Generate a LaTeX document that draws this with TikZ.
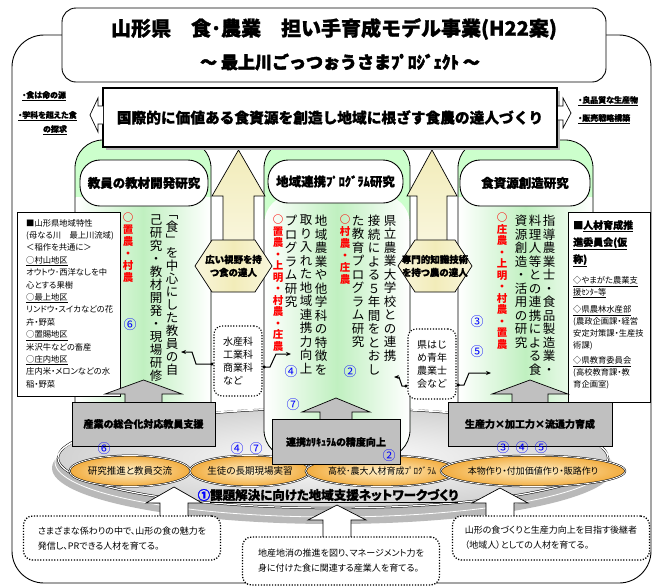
\documentclass[tikz,border=0pt]{standalone}
\usepackage{fontspec}
\newfontfamily\jp{Noto Sans CJK JP}
\newfontfamily\jpp{Noto Sans CJK JP}[RawFeature=+palt]
\newfontfamily\jpx{Noto Sans CJK JP}[BoldFeatures={FakeBold=1.2}]
\newfontfamily\jpxx{Noto Sans CJK JP}[BoldFeatures={FakeBold=2.6}]
\newfontfamily\jpxp{Noto Sans CJK JP}[RawFeature=+palt,BoldFeatures={FakeBold=1.2}]
\usetikzlibrary{shapes.geometric,arrows.meta}
\definecolor{archc}{RGB}{204,255,204}
\definecolor{colg}{RGB}{192,240,192}
\definecolor{creamc}{RGB}{242,236,185}
\definecolor{gboxc}{RGB}{192,192,192}
\definecolor{orngc}{RGB}{242,172,62}
\definecolor{lorngc}{RGB}{255,242,205}
\definecolor{bnumc}{RGB}{0,0,255}
\definecolor{rtxtc}{RGB}{255,0,0}
\makeatletter
\newcommand\vtxt[2]{\vbox{\baselineskip=#1\relax\lineskiplimit=-100pt\relax\lineskip=0pt\relax\@tfor\vt@c:=#2\do{\hbox to 1.15em{\hss\vt@c\hss}}}}
\makeatother
\begin{document}
\begin{tikzpicture}[x=1pt,y=-1pt,
  every node/.style={inner sep=0pt, font=\jp},
  vt/.style={anchor=north, font=\jp\fontsize{12.5}{13.5}\selectfont},
  vr/.style={anchor=north, text=rtxtc, font=\jp\bfseries\fontsize{10.5}{12}\selectfont},
  bn/.style={text=bnumc, font=\jp\fontsize{13}{13}\selectfont},
  hdr/.style={draw, line width=0.9pt, fill=white, rounded corners=20pt, font=\jpx\bfseries\fontsize{12.5}{14}\selectfont},
  gbx/.style={draw, line width=0.8pt, fill=gboxc, font=\jpxp\bfseries\fontsize{10}{12}\selectfont},
  pill/.style={ellipse, draw, double, double distance=0.8pt, line width=0.5pt, inner color=lorngc, outer color=orngc, font=\jpp\fontsize{9.5}{12}\selectfont},
  sbox/.style={draw, dash pattern=on 1.2pt off 1.6pt, line width=1.1pt, rounded corners=8pt, fill=white},
  bbox/.style={draw, dash pattern=on 1.2pt off 1.6pt, line width=1.3pt, rounded corners=9pt, fill=white},
  lab/.style={font=\jpxp\bfseries\fontsize{8}{9}\selectfont},
  hx/.style={align=center, font=\jpxp\bfseries\fontsize{9.5}{13}\selectfont},
  zz/.style={line width=1pt, {Stealth[length=5pt,width=4pt]}-{Circle[length=3pt]}},
  harrow/.style={draw, line width=0.7pt, fill=white},
  garrow/.style={draw, line width=0.7pt, fill=gboxc},
  carrow/.style={draw, line width=0.7pt, top color=creamc, bottom color=creamc!45!white},
  chex/.style={draw, line width=0.7pt, left color=creamc!50!white, right color=creamc!50!white, middle color=creamc}
]
\useasboundingbox (0,0) rectangle (663,587);
\fill[white] (0,0) rectangle (663,587);
% outer frame
\draw[line width=0.9pt, rounded corners=32pt] (12,35) rectangle (651,583);
% platform
\fill[gray!55] (333,468) ellipse [x radius=281pt, y radius=56pt];
\shade[inner color=white, outer color=gray!35] (333,458) ellipse [x radius=275pt, y radius=50pt];
\draw[double, double distance=1.2pt, line width=0.5pt] (333,458) ellipse [x radius=275pt, y radius=50pt];
\draw[white, line width=0.8pt] (333,462) ellipse [x radius=278pt, y radius=55pt];
% columns
\fill[archc, rounded corners=28pt] (75,140) rectangle (211,440);
\shade[left color=white, right color=white, middle color=colg] (75.4,197) rectangle (210.6,440);
\draw[line width=0.8pt, rounded corners=28pt] (75,140) rectangle (211,440);
\fill[archc, rounded corners=28pt] (264,140) rectangle (410,458);
\shade[left color=white, right color=white, middle color=colg, rounded corners=28pt] (264.4,195) -- (264.4,457.6) -- (409.6,457.6) -- (409.6,195) -- cycle;
\draw[line width=0.8pt, rounded corners=28pt] (264,140) rectangle (410,458);
\fill[archc, rounded corners=28pt] (458,140) rectangle (593,440);
\shade[left color=white, right color=white, middle color=colg] (458.4,197) rectangle (592.6,440);
\draw[line width=0.8pt, rounded corners=28pt] (458,140) rectangle (593,440);
% cream arrows
\path[carrow] (238.5,150) -- (265,196) -- (254,196) -- (254,250) -- (223,250) -- (223,196) -- (212,196) -- cycle;
\path[chex] (195,266) -- (212,240) -- (255,240) -- (272,266) -- (255,292) -- (212,292) -- cycle;
\node[hx] (hx1) at (233.5,266) {広い視野を持\\つ食の達人};
\path[carrow] (432,150) -- (457,196) -- (447,196) -- (447,250) -- (417,250) -- (417,196) -- (407,196) -- cycle;
\path[chex] (398,266) -- (415,240) -- (455,240) -- (472,266) -- (455,292) -- (415,292) -- cycle;
\node[hx] (hx2) at (435,266) {専門的知識技術\\を持つ農の達人};
% headers
\node[hdr, minimum width=128pt, minimum height=46pt] (h1) at (144,183) {教員の教材開発研究};
\node[hdr, minimum width=135pt, minimum height=43pt] (h2) at (335.5,181.5) {地域連携ﾌﾟﾛｸﾞﾗﾑ研究};
\node[hdr, minimum width=130pt, minimum height=46pt] (h3) at (525,183) {食資源創造研究};
% banner
\fill[gray!60] (106,91) rectangle (560,150);
\node[draw, line width=1.6pt, fill=white, minimum width=454pt, minimum height=59pt, font=\jpx\bfseries\fontsize{14.7}{16}\selectfont] (ban) at (330,117.5) {国際的に価値ある食資源を創造し地域に根ざす食農の達人づくり};
\path[harrow] (103,106) -- (98,106) -- (98,98) -- (90,115) -- (98,132) -- (98,124) -- (103,124);
\path[harrow] (558,106) -- (563,106) -- (563,98) -- (571,113) -- (563,128) -- (563,120) -- (558,120);
\node[lab, anchor=west] (la1) at (22,96) {\underline{・食は命の源}};
\node[lab, anchor=west] (la2) at (18,116) {\underline{・学科を超えた食}};
\node[lab] (la3) at (55,130) {\underline{の探求}};
\node[lab, anchor=west] (ra1) at (578,101) {\underline{・良品質な生産物}};
\node[lab, anchor=west] (ra2) at (578,119) {\underline{・販売戦略構築}};
% title
\node[draw, line width=0.9pt, fill=white, rounded corners=14pt, minimum width=544pt, minimum height=74pt] (tb) at (334,45) {};
\node[font=\jpx\bfseries\fontsize{20}{22}\selectfont] (t1) at (334,29) {山形県　食･農業　担い手育成モデル事業(H22案)};
\node[font=\jpxx\bfseries\fontsize{17}{19}\selectfont] (t2) at (340,62) {～ 最上川ごっつぉうさまﾌﾟﾛｼﾞｪｸﾄ ～};
% left column text
\node[vr] (r1) at (128,213) {\vtxt{12pt}{○置農・村農}};
\node[vt] (c1a) at (172,215) {\vtxt{13pt}{﹁食﹂を中心にした教員の自}};
\node[vt] (c1b) at (156,215) {\vtxt{13pt}{己研究・教材開発・現場研修}};
\node[bn] (n6a) at (130,325) {⑥};
% middle column text
\node[vr] (r2) at (345,215) {\vtxt{12pt}{○村農・庄農}};
\node[vr] (r3) at (278,215) {\vtxt{11.5pt}{○置農・上明・村農・庄農}};
\node[vt] (c2a) at (390,215) {\vtxt{13.5pt}{県立農業大学校との連携}};
\node[vt] (c2b) at (374,215) {\vtxt{13.5pt}{接続による５年間をとおし}};
\node[vt] (c2c) at (358,215) {\vtxt{13.5pt}{た教育プログラム研究}};
\node[vt] (c2d) at (321,215) {\vtxt{13.5pt}{地域農業や他学科の特徴を}};
\node[vt] (c2e) at (306,215) {\vtxt{13.5pt}{取り入れた地域連携力向上}};
\node[vt] (c2f) at (291,215) {\vtxt{13.5pt}{プログラム研究}};
\node[bn] (n4a) at (291,372) {④};
\node[bn] (n2a) at (350,372) {②};
\node[bn] (n7a) at (293,405) {⑦};
% right column text
\node[vr] (r4) at (502,213) {\vtxt{11.5pt}{○庄農・上明・村農・置農}};
\node[vt] (c3a) at (549,215) {\vtxt{13.5pt}{指導農業士・食品製造業・}};
\node[vt] (c3b) at (535,215) {\vtxt{13.5pt}{料理人等との連携による食}};
\node[vt] (c3c) at (521,215) {\vtxt{13.5pt}{資源創造・活用の研究}};
\node[bn] (n3a) at (477,322) {③};
\node[bn] (n5a) at (477,352) {⑤};
% left info box
\node[draw, line width=0.8pt, fill=white, minimum width=103pt, minimum height=184pt, anchor=north west] (ib1) at (17,212) {};
\node[anchor=north west, align=left, font=\jpp\fontsize{8.3}{12.4}\selectfont] (ib1t) at (26,219) {■山形県地域特性\\(母なる川　最上川流域)\\＜稲作を共通に＞\\\underline{○村山地区}\\オウトウ･西洋なしを中\\心とする果樹\\\underline{○最上地区}\\リンドウ・スイカなどの花\\卉・野菜\\\underline{○置賜地区}\\米沢牛などの畜産\\\underline{○庄内地区}\\庄内米・メロンなどの水\\稲・野菜};
% right info box
\node[draw, line width=0.8pt, fill=white, minimum width=82pt, minimum height=190pt, anchor=north west] (ib2) at (568,212) {};
\node[anchor=north west, align=left, font=\jpxp\bfseries\fontsize{10}{17}\selectfont] (ib2h) at (573,220) {■\underline{人材育成推}\\\underline{進委員会(仮}\\\underline{称)}};
\node[anchor=north west, align=left, font=\jpp\fontsize{8.3}{12}\selectfont] (ib2t) at (573,276) {\underline{◇やまがた農業支}\\\underline{援ｾﾝﾀｰ等}\\[5pt]\underline{◇県農林水産部}\\(農政企画課・経営\\安定対策課・生産技\\術課)\\[3pt]\underline{◇県教育委員会}\\(高校教育課・教\\育企画室)};
% small boxes and zigzag connectors
\node[sbox, minimum width=48pt, minimum height=70pt] (sb1) at (238,361) {};
\node[align=left, font=\jp\fontsize{10}{13}\selectfont] (sb1t) at (sb1) {水産科\\工業科\\商業科\\など};
\node[sbox, minimum width=48pt, minimum height=70pt] (sb2) at (432,364) {};
\node[align=left, font=\jp\fontsize{10}{13}\selectfont] (sb2t) at (sb2) {県はじ\\め青年\\農業士\\会など};
\coordinate (z1) at (181,352);
\coordinate (z2) at (291,354);
\coordinate (z3) at (394,377);
\coordinate (z4) at (491,373);
\draw[zz] (z1) -- (192,352) -- (196,364) -- (sb1.west |- 0,364);
\draw[zz] (z2) -- (276,354) -- (270,367) -- (sb1.east |- 0,367);
\draw[zz] (z3) -- (399,377) -- (402,386) -- (sb2.west |- 0,386);
\draw[zz] (z4) -- (469,373) -- (464,385) -- (sb2.east |- 0,385);
% pills
\node[pill, minimum width=121pt, minimum height=31pt] (p1) at (130,471) {研究推進と教員交流};
\node[pill, minimum width=118pt, minimum height=31pt] (p2) at (250,471) {生徒の長期現場実習};
\node[pill, minimum width=142pt, minimum height=31pt, font=\jpp\fontsize{9}{12}\selectfont] (p3) at (382,471) {高校･農大人材育成ﾌﾟﾛｸﾞﾗﾑ};
\node[pill, minimum width=150pt, minimum height=31pt, font=\jpp\fontsize{9}{12}\selectfont] (p4) at (533,471) {本物作り・付加価値作り・販路作り};
% gray boxes with arrows
\path[garrow] (125,402) -- (125,394) -- (105,394) -- (143.5,380) -- (182,394) -- (162,394) -- (162,402);
\path[garrow] (320,420) -- (320,412) -- (302,412) -- (336,398) -- (370,412) -- (352,412) -- (352,420);
\path[garrow] (512,402) -- (512,394) -- (492,394) -- (530,380) -- (568,394) -- (548,394) -- (548,402);
\node[gbx, minimum width=143pt, minimum height=44pt] (g1) at (143.5,424) {産業の総合化対応教員支援};
\node[gbx, minimum width=128pt, minimum height=45pt] (g2) at (336,442) {連携ｶﾘｷｭﾗﾑの精度向上};
\node[gbx, minimum width=164pt, minimum height=44pt] (g3) at (530,424) {生産力×加工力×流通力育成};
\node[bn] (n6b) at (104,449) {⑥};
\node[bn] (n4b) at (237,449) {④};
\node[bn] (n7b) at (256,449) {⑦};
\node[bn] (n2b) at (389,456) {②};
\node[bn] (n3b) at (503,448) {③};
\node[bn] (n4c) at (522,448) {④};
\node[bn] (n5b) at (541,448) {⑤};
% network label
\node[font=\jpxp\bfseries\fontsize{12.5}{14}\selectfont] (net) at (328,496) {{\color{bnumc}①}\underline{課題解決に向けた地域支援ネットワークづくり}};
% bottom arrows
\path[harrow] (160,520) -- (160,503) -- (146,503) -- (174,487) -- (202,503) -- (188,503) -- (188,520);
\path[harrow] (323,540) -- (323,520) -- (308,520) -- (337,505) -- (366,520) -- (351,520) -- (351,540);
\path[harrow] (486,520) -- (486,503) -- (472,503) -- (500,488) -- (528,503) -- (514,503) -- (514,520);
% bottom boxes
\node[bbox, minimum width=197pt, minimum height=44pt] (bb1) at (122,538) {};
\node[align=left, font=\jpp\fontsize{9}{15}\selectfont] (bb1t) at (bb1) {さまざまな係わりの中で、山形の食の魅力を\\発信し、PRできる人材を育てる。};
\node[bbox, minimum width=197pt, minimum height=48pt] (bb2) at (341,561) {};
\node[align=left, font=\jpp\fontsize{9}{15}\selectfont] (bb2t) at (bb2) {地産地消の推進を図り、マネージメント力を\\身に付けた食に関連する産業人を育てる。};
\node[bbox, minimum width=197pt, minimum height=44pt] (bb3) at (551,538) {};
\node[align=left, font=\jpp\fontsize{9}{15}\selectfont] (bb3t) at (bb3) {山形の食づくりと生産力向上を目指す後継者\\（地域人）としての人材を育てる。};
\end{tikzpicture}
\end{document}
